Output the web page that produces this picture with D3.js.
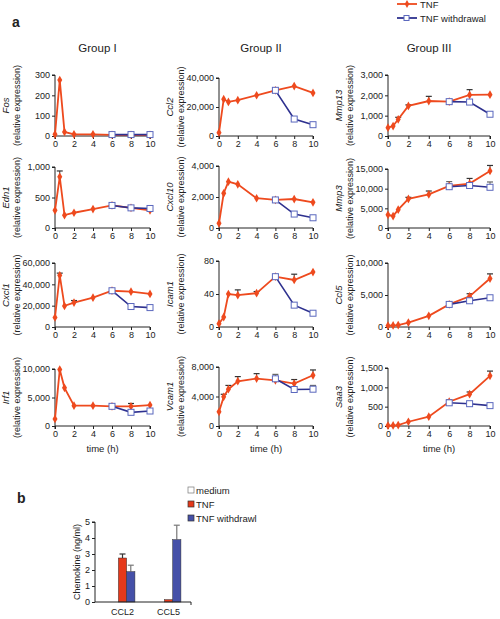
<!DOCTYPE html>
<html><head><meta charset="utf-8">
<script src="https://cdn.jsdelivr.net/npm/d3@7"></script>
<style>body{margin:0;background:#fff} text{font-family:Arial,"Liberation Sans",Helvetica,sans-serif;fill:#222}</style>
</head><body><svg id="c" width="500" height="619"></svg>
<script>
// ---------- DATA ----------
const times = [0, 0.5, 1, 2, 4, 6, 8, 10];
const wdTimes = [6, 8, 10];
const xTicks = [0, 2, 4, 6, 8, 10];
const groups = ["Group I", "Group II", "Group III"];
const genes = ["Fos","Edn1","Cxcl1","Irf1","Ccl2","Cxcl10","Icam1","Vcam1","Mmp13","Mmp3","Ccl5","Saa3"];

const tnfFos = [8,275,20,8,8,6,5,5],               wdFos = [7,7,7];
const tnfEdn1 = [290,840,210,250,310,370,330,290],  wdEdn1 = [370,330,320];
const tnfCxcl1 = [8900,48500,19800,22900,27500,34000,33100,31000], wdCxcl1 = [34000,19200,18200];
const tnfIrf1 = [1230,9900,6700,3560,3560,3450,3450,3680], wdIrf1 = [3450,2400,2630];
const tnfCcl2 = [2300,25400,23500,24700,28100,31500,34400,29700], wdCcl2 = [31500,11700,7800];
const tnfCxcl10 = [300,2240,2990,2820,1920,1810,1870,1660], wdCxcl10 = [1810,900,660];
const tnfIcam1 = [4,12,40,38.6,41,61,57,66.6],      wdIcam1 = [61,26.5,16.7];
const tnfVcam1 = [1930,3950,4990,6070,6430,6200,5760,6880], wdVcam1 = [6400,4950,4990];
const tnfMmp13 = [410,490,820,1480,1720,1690,2020,2030], wdMmp13 = [1690,1670,1070];
const tnfMmp3 = [3360,3020,4650,7400,8530,10700,11300,14500], wdMmp3 = [10500,10800,10350];
const tnfCcl5 = [200,250,300,690,1740,3530,4790,7570], wdCcl5 = [3530,4100,4570];
const tnfSaa3 = [10,15,25,110,240,628,824,1297],    wdSaa3 = [600,577,527];

// upper error-bar ends (null = none visible)
const errTnfEdn1 = [null,935,null,null,null,null,null,null];
const errTnfCxcl1 = [null,50500,null,24800,null,null,null,null];
const errTnfIrf1 = [null,null,null,null,null,null,3950,null];
const errTnfIcam1 = [null,null,null,45,43,null,64,null];
const errTnfVcam1 = [null,4300,5500,6700,7100,null,6300,7600], errWdVcam1 = [7000,null,5500];
const errTnfMmp13 = [null,null,920,1530,1950,null,2280,null];
const errTnfMmp3 = [null,null,null,7800,9400,null,12600,15900], errWdMmp3 = [11800,null,11700];
const errTnfCcl5 = [null,null,null,null,null,null,5200,8300], errWdCcl5 = [null,null,4900];
const errTnfSaa3 = [null,null,null,null,null,null,880,1420], errWdSaa3 = [680,600,560];

const ticksFos = [0,100,200,300], ticksEdn1 = [0,500,1000], ticksCxcl1 = [0,20000,40000,60000], ticksIrf1 = [0,5000,10000];
const ticksCcl2 = [0,20000,40000], ticksCxcl10 = [0,2000,4000], ticksIcam1 = [0,40,80], ticksVcam1 = [0,4000,8000];
const ticksMmp13 = [0,1000,2000,3000], ticksMmp3 = [0,5000,10000,15000], ticksCcl5 = [0,5000,10000], ticksSaa3 = [0,500,1000,1500];

const legendA = ["TNF", "TNF withdrawal"];

// panel b
const barCats = ["CCL2", "CCL5"];
const barSeries = ["medium", "TNF", "TNF withdrawl"];
const barMedium = [0, 0];
const barTNF = [2.75, 0.15];
const barWD = [1.9, 3.9];
const barErrTNF = [3.0, null];
const barErrWD = [2.3, 4.8];
const barTicks = [0,1,2,3,4,5];

// ---------- STYLE / LAYOUT ----------
const RED = "#EE4A1E", BLUE = "#2E318F", SQ = "#5B68BE";
const colX = [[55,150],[219,313],[388,490]];
const rowBottom = [136, 228, 327, 426];
const panelTop = [[75,167,263,369],[78,166,261,367],[75,169,263,368]];

const panels = [
  {g:"Fos", t:tnfFos, w:wdFos, tk:ticksFos},
  {g:"Edn1", t:tnfEdn1, w:wdEdn1, tk:ticksEdn1, et:errTnfEdn1},
  {g:"Cxcl1", t:tnfCxcl1, w:wdCxcl1, tk:ticksCxcl1, et:errTnfCxcl1},
  {g:"Irf1", t:tnfIrf1, w:wdIrf1, tk:ticksIrf1, et:errTnfIrf1},
  {g:"Ccl2", t:tnfCcl2, w:wdCcl2, tk:ticksCcl2},
  {g:"Cxcl10", t:tnfCxcl10, w:wdCxcl10, tk:ticksCxcl10},
  {g:"Icam1", t:tnfIcam1, w:wdIcam1, tk:ticksIcam1, et:errTnfIcam1},
  {g:"Vcam1", t:tnfVcam1, w:wdVcam1, tk:ticksVcam1, et:errTnfVcam1, ew:errWdVcam1},
  {g:"Mmp13", t:tnfMmp13, w:wdMmp13, tk:ticksMmp13, et:errTnfMmp13},
  {g:"Mmp3", t:tnfMmp3, w:wdMmp3, tk:ticksMmp3, et:errTnfMmp3, ew:errWdMmp3},
  {g:"Ccl5", t:tnfCcl5, w:wdCcl5, tk:ticksCcl5, et:errTnfCcl5, ew:errWdCcl5},
  {g:"Saa3", t:tnfSaa3, w:wdSaa3, tk:ticksSaa3, et:errTnfSaa3, ew:errWdSaa3}
];

const svg = d3.select("#c");
const fmt = d3.format(",");

svg.append("text").attr("x", 12).attr("y", 27).attr("font-size", 14).attr("font-weight", "bold").text("a");
groups.forEach((g, i) => {
  svg.append("text").attr("x", (colX[i][0] + colX[i][1]) / 2 - 5 + (i===2?-5:0)).attr("y", 52)
    .attr("text-anchor", "middle").attr("font-size", 11.5).text(g);
});

// legend a
legendA.forEach((l, i) => {
  const y = 4 + i * 14;
  const gg = svg.append("g");
  gg.append("line").attr("x1", 397).attr("x2", 417).attr("y1", y).attr("y2", y)
    .attr("stroke", i ? BLUE : RED).attr("stroke-width", 1.8);
  if (i) gg.append("rect").attr("x", 404).attr("y", y - 2.5).attr("width", 5).attr("height", 5)
    .attr("fill", "#fff").attr("stroke", SQ).attr("stroke-width", 1);
  else gg.append("path").attr("transform", `translate(407,${y})`).attr("d", d3.symbol(d3.symbolDiamond, 18)()).attr("fill", RED);
  gg.append("text").attr("x", 420).attr("y", y + 3.5).attr("font-size", 9.5).text(l);
});

panels.forEach((p, idx) => {
  const col = Math.floor(idx / 4), row = idx % 4;
  const x = d3.scaleLinear().domain([0, 10]).range(colX[col]);
  const yMax = p.tk[p.tk.length - 1];
  const y = d3.scaleLinear().domain([0, yMax]).range([rowBottom[row], panelTop[col][row]]);
  const g = svg.append("g");

  const ya = g.append("g").attr("transform", `translate(${colX[col][0]},0)`)
    .call(d3.axisLeft(y).tickValues(p.tk).tickFormat(fmt).tickSize(3).tickPadding(2));
  const xa = g.append("g").attr("transform", `translate(0,${rowBottom[row]})`)
    .call(d3.axisBottom(x).tickValues(xTicks).tickSize(3).tickPadding(2));
  [ya, xa].forEach(a => {
    a.select(".domain").attr("stroke", "#222").attr("stroke-width", 1);
    a.selectAll(".tick line").attr("stroke", "#222");
    a.selectAll("text").attr("font-size", 9).attr("font-family", "Arial, 'Liberation Sans', sans-serif").attr("fill", "#222");
  });
  ya.select(".domain").attr("d", `M-3,${panelTop[col][row]}H0V${rowBottom[row]}`);
  xa.select(".domain").attr("d", `M${colX[col][0]},3V0H${colX[col][1]}V3`);

  // y labels
  const cy = (panelTop[col][row] + rowBottom[row]) / 2;
  const gx = colX[col][0] - 46;
  g.append("text").attr("transform", `translate(${gx},${cy}) rotate(-90)`).attr("text-anchor", "middle")
    .attr("font-size", 9.5).attr("font-style", "italic").text(p.g);
  g.append("text").attr("transform", `translate(${gx + 11},${cy}) rotate(-90)`).attr("text-anchor", "middle")
    .attr("font-size", 9).text("(relative expression)");
  if (row === 3) {
    g.append("text").attr("x", (colX[col][0] + colX[col][1]) / 2).attr("y", 452)
      .attr("text-anchor", "middle").attr("font-size", 9.5).text("time (h)");
  }

  const line = d3.line().x(d => x(d[0])).y(d => y(d[1]));
  const tData = times.map((t, i) => [t, p.t[i]]);
  const wData = wdTimes.map((t, i) => [t, p.w[i]]);

  // error bars
  const errBar = (ts, vals, errs, color) => {
    if (!errs) return;
    ts.forEach((t, i) => {
      if (errs[i] == null) return;
      const xx = x(t);
      g.append("line").attr("x1", xx).attr("x2", xx).attr("y1", y(vals[i])).attr("y2", y(errs[i]))
        .attr("stroke", color).attr("stroke-width", 1);
      g.append("line").attr("x1", xx - 3).attr("x2", xx + 3).attr("y1", y(errs[i])).attr("y2", y(errs[i]))
        .attr("stroke", color).attr("stroke-width", 1.2);
    });
  };
  errBar(times, p.t, p.et, "#333");
  errBar(wdTimes, p.w, p.ew, "#666");

  g.append("path").datum(tData).attr("d", line).attr("fill", "none").attr("stroke", RED).attr("stroke-width", 1.8);
  g.selectAll(null).data(tData).enter().append("path")
    .attr("transform", d => `translate(${x(d[0])},${y(d[1])})`)
    .attr("d", d3.symbol(d3.symbolDiamond, 22)()).attr("fill", RED);

  g.append("path").datum(wData).attr("d", line).attr("fill", "none").attr("stroke", BLUE).attr("stroke-width", 1.6);
  g.selectAll(null).data(wData).enter().append("rect")
    .attr("x", d => x(d[0]) - 3).attr("y", d => y(d[1]) - 3).attr("width", 6).attr("height", 6)
    .attr("fill", "#fff").attr("stroke", SQ).attr("stroke-width", 1);
});

// ---------- panel b ----------
svg.append("text").attr("x", 17).attr("y", 503).attr("font-size", 14).attr("font-weight", "bold").text("b");
const by = d3.scaleLinear().domain([0, 5]).range([602, 522]);
const bx = d3.scaleBand().domain(barCats).range([99.5, 191.5]).paddingInner(0.46).paddingOuter(0.23);
const bs = d3.scaleBand().domain(barSeries).range([0, bx.bandwidth()]);
const barColors = ["#fff", "#E5391B", "#4550A8"];
const barVals = [barMedium, barTNF, barWD];
const barErrs = [null, barErrTNF, barErrWD];
const gb = svg.append("g");

barSeries.forEach((s, si) => {
  barCats.forEach((c, ci) => {
    const v = barVals[si][ci];
    const xx = bx(c) + bs(s);
    if (barErrs[si] && barErrs[si][ci] != null) {
      const cx = xx + bs.bandwidth() / 2;
      gb.append("line").attr("x1", cx).attr("x2", cx).attr("y1", by(v)).attr("y2", by(barErrs[si][ci]))
        .attr("stroke", si === 1 ? "#333" : "#777").attr("stroke-width", 1.2);
      gb.append("line").attr("x1", cx - 3).attr("x2", cx + 3).attr("y1", by(barErrs[si][ci])).attr("y2", by(barErrs[si][ci]))
        .attr("stroke", si === 1 ? "#333" : "#777").attr("stroke-width", 1.2);
    }
    if (v > 0) gb.append("rect").attr("x", xx).attr("y", by(v)).attr("width", bs.bandwidth()).attr("height", by(0) - by(v))
      .attr("fill", barColors[si]).attr("stroke", si ? "#333" : "#888").attr("stroke-width", 0.5);
  });
});
const bya = gb.append("g").attr("transform", "translate(95,0)").call(d3.axisLeft(by).tickValues(barTicks).tickFormat(d3.format("d")).tickSize(3).tickPadding(2));
const bxa = gb.append("g").attr("transform", "translate(0,602)").call(d3.axisBottom(bx).tickSize(0).tickPadding(7));
[bya, bxa].forEach(a => {
  a.select(".domain").attr("stroke", "#222");
  a.selectAll(".tick line").attr("stroke", "#222");
  a.selectAll("text").attr("font-size", 9).attr("font-family", "Arial, 'Liberation Sans', sans-serif").attr("fill", "#222");
});
bya.select(".domain").attr("d", "M-3,522H0V602");
bxa.select(".domain").attr("d", "M95,0H191V3");
gb.append("text").attr("transform", "translate(80,562) rotate(-90)").attr("text-anchor", "middle")
  .attr("font-size", 9).text("Chemokine (ng/ml)");
barSeries.forEach((s, i) => {
  const yy = 490 + i * 14;
  gb.append("rect").attr("x", 188).attr("y", yy - 3).attr("width", 6).attr("height", 6)
    .attr("fill", barColors[i]).attr("stroke", i ? "#333" : "#777").attr("stroke-width", 0.7);
  gb.append("text").attr("x", 196).attr("y", yy + 3.5).attr("font-size", 9.5).text(s);
});
</script></body></html>
